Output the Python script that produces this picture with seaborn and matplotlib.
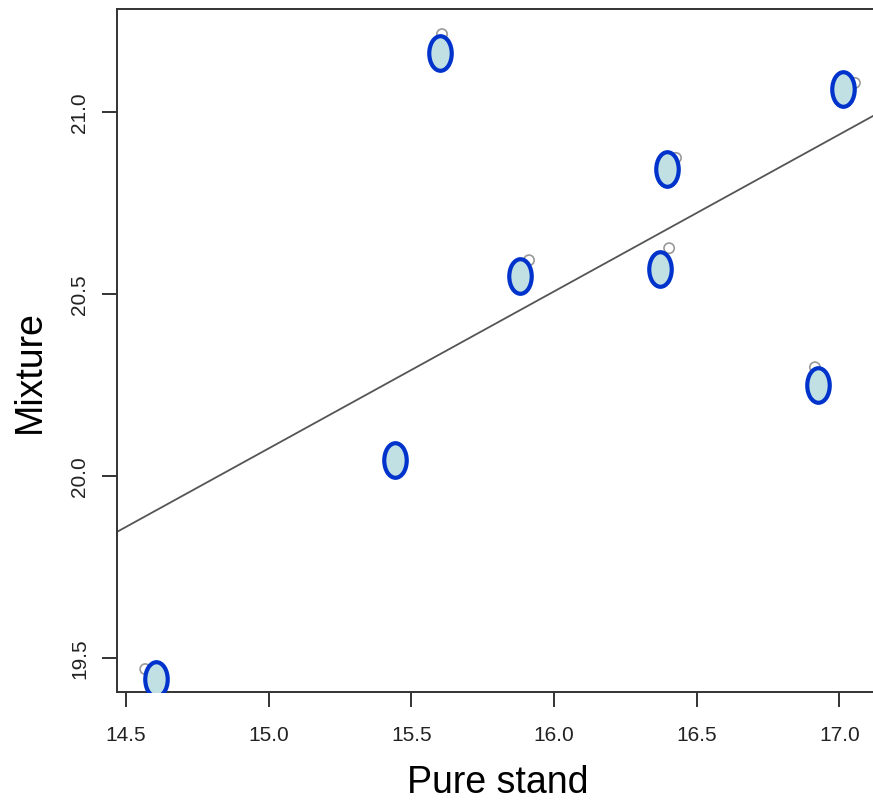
import numpy as np
import pandas as pd
import matplotlib
matplotlib.use("Agg")
import matplotlib.pyplot as plt
from matplotlib.path import Path
from matplotlib.transforms import Affine2D
import seaborn as sns

# measured values (blue ellipses) and the small grey open circles next to them
pure_stand = [15.600, 17.012, 16.396, 15.881, 16.371, 16.925, 15.443, 14.605]
mixture = [21.162, 21.063, 20.843, 20.549, 20.569, 20.250, 20.044, 19.442]
ref_x = [15.607, 17.054, 16.427, 15.912, 16.403, 16.914, 15.443, 14.567]
ref_y = [21.214, 21.080, 20.874, 20.593, 20.626, 20.299, 20.044, 19.470]

x_ticks = [14.5, 15.0, 15.5, 16.0, 16.5, 17.0]
y_ticks = [19.5, 20.0, 20.5, 21.0]

df = pd.DataFrame({"x": pure_stand, "y": mixture})
df_ref = pd.DataFrame({"x": ref_x, "y": ref_y})

sns.set_theme(style="ticks")
plt.rcParams["font.family"] = ["Liberation Sans", "DejaVu Sans"]

fig = plt.figure(figsize=(8.73, 8.04), dpi=100)
ax = fig.add_axes([117 / 873, 111 / 804, 761 / 873, 683 / 804])
ax.set_xlim(14.468, 17.135)
ax.set_ylim(19.407, 21.283)

# tall ellipse marker
ellipse = Path.unit_circle().transformed(Affine2D().scale(0.65, 1.0))

# least-squares line through the grey points
sns.regplot(data=df_ref, x="x", y="y", ci=None, truncate=False, scatter=False,
            line_kws={"color": "#555555", "lw": 1.3}, ax=ax)
sns.scatterplot(data=df_ref, x="x", y="y", s=55, facecolor="none",
                edgecolor="#999999", linewidth=1.2, ax=ax, zorder=3)
sns.scatterplot(data=df, x="x", y="y", marker=ellipse, s=620,
                color="#c0e0e4", edgecolor="#0033cc", linewidth=3.0,
                ax=ax, zorder=4)

ax.set_xticks(x_ticks)
ax.set_yticks(y_ticks)
ax.set_xticklabels([f"{v:.1f}" for v in x_ticks])
ax.set_yticklabels([f"{v:.1f}" for v in y_ticks], rotation=90, va="center")
ax.tick_params(axis="both", direction="out", length=11, width=1.4,
               color="#333333", labelsize=15, labelcolor="#222222")
ax.tick_params(axis="x", pad=13)
ax.tick_params(axis="y", pad=9)

for sp in ax.spines.values():
    sp.set_color("#333333")
    sp.set_linewidth(1.4)

ax.set_xlabel("Pure stand", fontsize=27, color="black", labelpad=14)
ax.set_ylabel("Mixture", fontsize=27, color="black")
ax.yaxis.set_label_coords(-69 / 761, 0.471)
ax.grid(False)

fig.savefig("out.png", dpi=100)
